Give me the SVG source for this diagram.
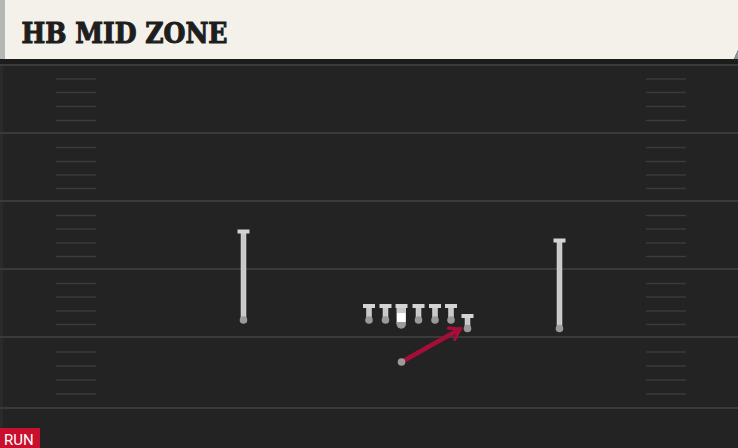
<svg xmlns="http://www.w3.org/2000/svg" width="738" height="448" viewBox="0 0 738 448">
<style>
.yl{stroke:#3a3a3a;stroke-width:2}
.hm{stroke:#3b3b3b;stroke-width:1.6}
.stem{fill:#c9c9c9;stroke:#e0e0e0;stroke-width:0.5}
.cap{fill:#d4d4d4}
.dot{fill:#9a9a9a}
.title{font-family:"DejaVu Serif",serif;font-weight:900;font-size:27px;fill:#1e1e1e;stroke:#1e1e1e;stroke-width:1.1;stroke-linejoin:miter}
.tag{font-family:Roboto,"Liberation Sans",sans-serif;font-size:15px;fill:#ffffff}
</style>
<defs>
<marker id="ah" viewBox="0 0 10 10" refX="7.5" refY="5" markerWidth="3.6" markerHeight="3.6" orient="auto" markerUnits="strokeWidth">
<path d="M1.5,1 L7.5,5 L1.5,9" fill="none" stroke="#a50f37" stroke-width="2" stroke-linejoin="miter" stroke-linecap="round"/>
</marker>
</defs>
<rect x="0" y="0" width="738" height="448" fill="#232323"/>
<rect x="0" y="59" width="738" height="6" fill="#1c1c1c"/>
<rect x="0" y="65" width="3" height="383" fill="#2a2a2a"/>
<g id="field">
<line class="yl" x1="0" y1="65" x2="738" y2="65"/>
<line class="yl" x1="0" y1="133" x2="738" y2="133"/>
<line class="yl" x1="0" y1="201" x2="738" y2="201"/>
<line class="yl" x1="0" y1="269" x2="738" y2="269"/>
<line class="yl" x1="0" y1="337" x2="738" y2="337"/>
<line class="yl" x1="0" y1="408" x2="738" y2="408"/>
<g id="hashes-left">
<line class="hm" x1="56" y1="79" x2="96" y2="79"/>
<line class="hm" x1="56" y1="92.5" x2="96" y2="92.5"/>
<line class="hm" x1="56" y1="106.5" x2="96" y2="106.5"/>
<line class="hm" x1="56" y1="120.5" x2="96" y2="120.5"/>
<line class="hm" x1="56" y1="147.5" x2="96" y2="147.5"/>
<line class="hm" x1="56" y1="161.5" x2="96" y2="161.5"/>
<line class="hm" x1="56" y1="175" x2="96" y2="175"/>
<line class="hm" x1="56" y1="188.5" x2="96" y2="188.5"/>
<line class="hm" x1="56" y1="215.5" x2="96" y2="215.5"/>
<line class="hm" x1="56" y1="229" x2="96" y2="229"/>
<line class="hm" x1="56" y1="243" x2="96" y2="243"/>
<line class="hm" x1="56" y1="256.5" x2="96" y2="256.5"/>
<line class="hm" x1="56" y1="283.5" x2="96" y2="283.5"/>
<line class="hm" x1="56" y1="297" x2="96" y2="297"/>
<line class="hm" x1="56" y1="311" x2="96" y2="311"/>
<line class="hm" x1="56" y1="324.5" x2="96" y2="324.5"/>
<line class="hm" x1="56" y1="352" x2="96" y2="352"/>
<line class="hm" x1="56" y1="366" x2="96" y2="366"/>
<line class="hm" x1="56" y1="380" x2="96" y2="380"/>
<line class="hm" x1="56" y1="394" x2="96" y2="394"/>
</g>
<g id="hashes-right">
<line class="hm" x1="646" y1="79" x2="686" y2="79"/>
<line class="hm" x1="646" y1="92.5" x2="686" y2="92.5"/>
<line class="hm" x1="646" y1="106.5" x2="686" y2="106.5"/>
<line class="hm" x1="646" y1="120.5" x2="686" y2="120.5"/>
<line class="hm" x1="646" y1="147.5" x2="686" y2="147.5"/>
<line class="hm" x1="646" y1="161.5" x2="686" y2="161.5"/>
<line class="hm" x1="646" y1="175" x2="686" y2="175"/>
<line class="hm" x1="646" y1="188.5" x2="686" y2="188.5"/>
<line class="hm" x1="646" y1="215.5" x2="686" y2="215.5"/>
<line class="hm" x1="646" y1="229" x2="686" y2="229"/>
<line class="hm" x1="646" y1="243" x2="686" y2="243"/>
<line class="hm" x1="646" y1="256.5" x2="686" y2="256.5"/>
<line class="hm" x1="646" y1="283.5" x2="686" y2="283.5"/>
<line class="hm" x1="646" y1="297" x2="686" y2="297"/>
<line class="hm" x1="646" y1="311" x2="686" y2="311"/>
<line class="hm" x1="646" y1="324.5" x2="686" y2="324.5"/>
<line class="hm" x1="646" y1="352" x2="686" y2="352"/>
<line class="hm" x1="646" y1="366" x2="686" y2="366"/>
<line class="hm" x1="646" y1="380" x2="686" y2="380"/>
<line class="hm" x1="646" y1="394" x2="686" y2="394"/>
</g>
</g>
<g id="header">
<path d="M0,0 H738 V50 L734,59 H0 Z" fill="#f4f1ea"/>
<path d="M738,50 L734,59 H738 Z" fill="#8e9499"/>
<rect x="0" y="0" width="5" height="59" fill="#b4b6b4"/>
<text class="title" x="21.5" y="42.5" textLength="206" lengthAdjust="spacingAndGlyphs">HB MID ZONE</text>
</g>
<g id="connectors">
<line x1="401.5" y1="362" x2="460" y2="329" stroke="#a50f37" stroke-width="4.5" stroke-linecap="round" marker-end="url(#ah)"/>
</g>
<g id="wr-left">
<rect class="stem" x="241" y="231" width="5" height="89"/>
<rect class="cap" x="237.5" y="229.5" width="12" height="4"/>
<circle class="dot" cx="243.5" cy="320" r="3.8"/>
</g>
<g id="wr-right">
<rect class="stem" x="557" y="240" width="5" height="89"/>
<rect class="cap" x="553.5" y="238.5" width="12" height="4"/>
<circle class="dot" cx="559.5" cy="328.5" r="3.8"/>
</g>
<g id="lt">
<rect class="stem" x="366.5" y="305" width="5" height="15"/>
<rect class="cap" x="363" y="304" width="12" height="4"/>
<circle class="dot" cx="369" cy="320" r="3.8"/>
</g>
<g id="lg">
<rect class="stem" x="383" y="305" width="5" height="15"/>
<rect class="cap" x="379.5" y="304" width="12" height="4"/>
<circle class="dot" cx="385.5" cy="320" r="3.8"/>
</g>
<g id="c">
<rect x="396.5" y="305" width="9.5" height="19" rx="1" fill="#c9c9c9"/>
<rect x="397" y="313" width="8.5" height="9" fill="#ffffff"/>
<path d="M396.5,322 H406 V324 A4.75,4.75 0 0 1 396.5,324 Z" fill="#9a9a9a"/>
<rect class="cap" x="395.5" y="304" width="12" height="4"/>
</g>
<g id="rg">
<rect class="stem" x="416" y="305" width="5" height="15"/>
<rect class="cap" x="412.5" y="304" width="12" height="4"/>
<circle class="dot" cx="418.5" cy="320" r="3.8"/>
</g>
<g id="rt">
<rect class="stem" x="432.5" y="305" width="5" height="15"/>
<rect class="cap" x="429" y="304" width="12" height="4"/>
<circle class="dot" cx="435" cy="320" r="3.8"/>
</g>
<g id="te">
<rect class="stem" x="448.5" y="305" width="5" height="15"/>
<rect class="cap" x="445" y="304" width="12" height="4"/>
<circle class="dot" cx="451" cy="320" r="3.8"/>
</g>
<g id="te2">
<rect class="stem" x="465" y="315" width="5" height="13.5"/>
<rect class="cap" x="461.5" y="314" width="12" height="4"/>
<circle class="dot" cx="467.5" cy="328.5" r="3.8"/>
</g>
<g id="hb">
<circle cx="401.5" cy="362" r="3.8" fill="#9a9a9a"/>
</g>
<g id="tag">
<rect x="0" y="428" width="40" height="20" fill="#c8102e"/>
<text class="tag" x="4" y="444.5">RUN</text>
</g>
</svg>
